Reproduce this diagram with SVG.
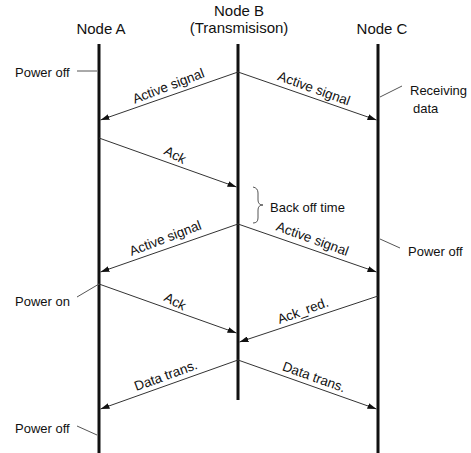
<svg xmlns="http://www.w3.org/2000/svg" width="471" height="453" viewBox="0 0 471 453">
<defs>
<marker id="ah" markerWidth="9" markerHeight="6" refX="9" refY="3" orient="auto" markerUnits="userSpaceOnUse">
<path d="M0,0 L9,3 L0,6 z" fill="#111"/>
</marker>
<style>
text{font-family:"Liberation Sans",Arial,sans-serif;fill:#111}
.t{font-size:15px;text-anchor:middle}
.l{font-size:13px}
.m{font-size:13.5px;text-anchor:middle}
.life{stroke:#111;stroke-width:3;fill:none}
.msg{stroke:#333;stroke-width:1;fill:none;marker-end:url(#ah)}
.lead{stroke:#555;stroke-width:1;fill:none}
</style>
</defs>
<rect width="471" height="453" fill="#fff"/>
<g id="nodeA">
<text class="t" x="101" y="34">Node A</text>
<line class="life" x1="99" y1="44" x2="99" y2="453"/>
</g>
<g id="nodeB">
<text class="t" x="239" y="16">Node B</text>
<text class="t" x="239" y="33">(Transmisison)</text>
<line class="life" x1="238" y1="44" x2="238" y2="400"/>
</g>
<g id="nodeC">
<text class="t" x="382" y="34">Node C</text>
<line class="life" x1="378" y1="44" x2="378" y2="453"/>
</g>
<g id="connectors">
<line class="msg" x1="238" y1="72" x2="100.5" y2="120"/>
<line class="msg" x1="238" y1="72" x2="376.5" y2="120"/>
<line class="msg" x1="99" y1="138" x2="236.5" y2="187"/>
<line class="msg" x1="238" y1="224" x2="100.5" y2="272"/>
<line class="msg" x1="238" y1="224" x2="376.5" y2="272"/>
<line class="msg" x1="99" y1="284" x2="236.5" y2="333"/>
<line class="msg" x1="378" y1="296" x2="239.5" y2="342"/>
<line class="msg" x1="238" y1="360" x2="100.5" y2="409"/>
<line class="msg" x1="238" y1="360" x2="376.5" y2="409"/>
</g>
<g id="labels">
<text class="m" transform="translate(169,96) rotate(-21)" x="3" y="-5">Active signal</text>
<text class="m" transform="translate(307,96) rotate(20)" x="4" y="-5">Active signal</text>
<text class="m" transform="translate(168,162) rotate(28)" x="3" y="-5">Ack</text>
<text class="m" transform="translate(169,248) rotate(-21)" x="0" y="-6">Active signal</text>
<text class="m" transform="translate(307,248) rotate(20)" x="2" y="-6">Active signal</text>
<text class="m" transform="translate(168,308.5) rotate(28)" x="3" y="-5">Ack</text>
<text class="m" transform="translate(308,319) rotate(-20)" x="-2" y="-5">Ack_red.</text>
<text class="m" transform="translate(169,384.5) rotate(-20)" x="0" y="-5">Data trans.</text>
<text class="m" transform="translate(307,384.5) rotate(20)" x="4" y="-5">Data trans.</text>
</g>
<g id="annotations">
<text class="l" x="15" y="77">Power off</text>
<line class="lead" x1="77" y1="71" x2="97" y2="71"/>
<text class="l" x="410" y="95">Receiving</text>
<text class="l" x="413" y="113">data</text>
<line class="lead" x1="380" y1="97" x2="402" y2="86"/>
<path class="lead" d="M253,187 Q258,188 258,193 L258,200 Q258,205 263,205 Q258,205 258,210 L258,218 Q258,223 253,223" stroke="#666"/>
<text class="l" x="270" y="212">Back off time</text>
<text class="l" x="408" y="256">Power off</text>
<line class="lead" x1="380" y1="239" x2="400" y2="248"/>
<text class="l" x="15" y="306">Power on</text>
<line class="lead" x1="99" y1="284" x2="77" y2="297"/>
<text class="l" x="15" y="433">Power off</text>
<line class="lead" x1="77" y1="426" x2="97" y2="435"/>
</g>
</svg>
